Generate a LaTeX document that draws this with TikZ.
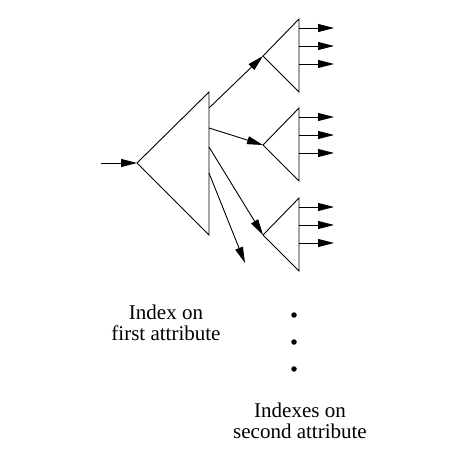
\documentclass[tikz,border=0pt]{standalone}
\usepackage{fontspec}
\setmainfont{Liberation Serif}
\usetikzlibrary{arrows.meta}
\tikzset{
  line/.style={line width=0.9pt},
  arr/.style={line width=0.9pt,-{Triangle[length=16pt,width=8pt]}},
  lbl/.style={align=center,font=\fontsize{21}{21.5}\selectfont,inner sep=0pt},
  dot/.style={circle,fill=black,inner sep=0pt,minimum size=5.5pt}
}
\begin{document}
\begin{tikzpicture}[x=1pt,y=-1pt]
\useasboundingbox (0,0) rectangle (454,462);
% big triangle
\coordinate (A) at (137,163);
\coordinate (At) at (209,92);
\coordinate (Ab) at (209,235);
\draw[line,line join=miter] (A) -- (At) -- (Ab) -- cycle;
\coordinate (in) at (101,163);
\draw[arr] (in) -- (A);
% small triangles
\foreach \n/\y in {1/56,2/145,3/235}{
  \coordinate (S\n) at (263,\y);
  \coordinate (S\n t) at (299,\y-37);
  \coordinate (S\n b) at (299,\y+36);
  \draw[line,line join=miter] (S\n) -- (S\n t) -- (S\n b) -- cycle;
  \foreach \k/\d in {a/-28,b/-10,c/8}{
    \coordinate (S\n o\k) at (299,\y+\d);
    \coordinate (S\n e\k) at (334,\y+\d);
    \draw[arr] (S\n o\k) -- (S\n e\k);
  }
}
% arrows from big triangle
\coordinate (B1) at (209,108);
\coordinate (B2) at (209,128);
\coordinate (B3) at (209,147);
\coordinate (B4) at (209,173);
\coordinate (E4) at (245,263);
\draw[arr] (B1) -- (S1);
\draw[arr] (B2) -- (S2);
\draw[arr] (B3) -- (S3);
\draw[arr] (B4) -- (E4);
% labels
\node[lbl] (l1) at (166,323) {Index on\\first attribute};
\node[dot] (d1) at (294,315) {};
\node[dot] (d2) at (294,342) {};
\node[dot] (d3) at (294,369) {};
\node[lbl] (l2) at (300,421) {Indexes on\\second attribute};
\end{tikzpicture}
\end{document}
